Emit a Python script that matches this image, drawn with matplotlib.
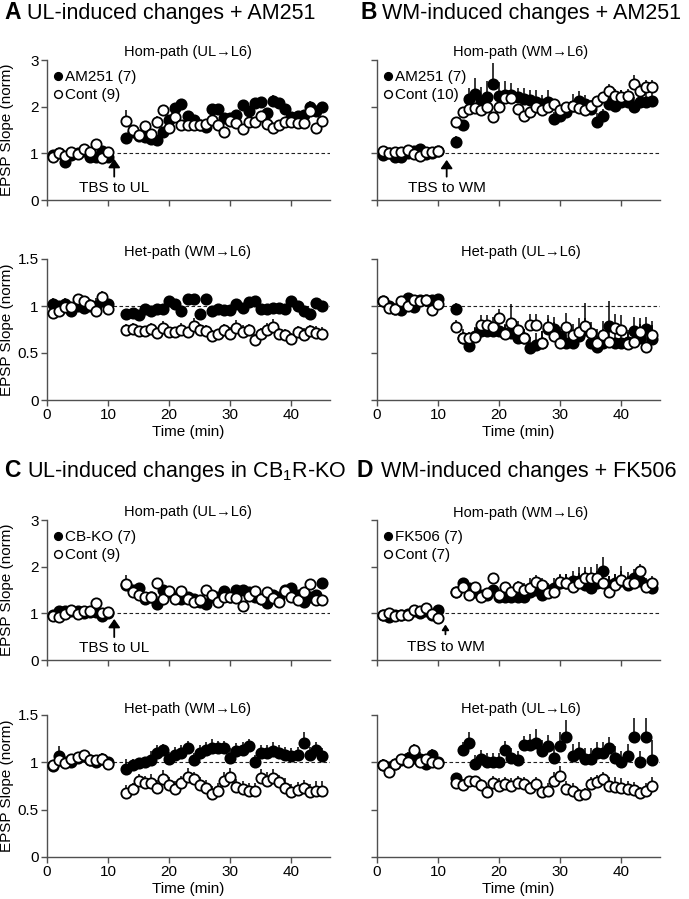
import matplotlib
matplotlib.use("Agg")
import matplotlib.pyplot as plt
from matplotlib.lines import Line2D
import numpy as np

plt.rcParams['font.family'] = ['Liberation Sans', 'DejaVu Sans']
plt.rcParams['mathtext.fontset'] = 'custom'
plt.rcParams['mathtext.rm'] = 'Liberation Sans'

# ---------------- data ----------------
TIME = [1, 2, 3, 4, 5, 6, 7, 8, 9, 10,
        13, 14, 15, 16, 17, 18, 19, 20, 21, 22, 23, 24, 25, 26, 27, 28, 29, 30,
        31, 32, 33, 34, 35, 36, 37, 38, 39, 40, 41, 42, 43, 44, 45]
X_TICKS = [0, 10, 20, 30, 40]
HOM_YTICKS = [0, 1, 2, 3]
HET_YTICKS = [0, 0.5, 1, 1.5]
HET_YLABELS = ['0', '0.5', '1', '1.5']

# Panel A
A_hom_drug = [0.97, 1.0, 0.82, 0.97, 1.0, 1.05, 0.93, 0.93, 1.05, 0.93,
              1.33, 1.46, 1.38, 1.34, 1.3, 1.29, 1.46, 1.71, 1.98, 2.05, 1.79, 1.72, 1.6, 1.57, 1.95, 1.95, 1.75,
              1.75, 1.82, 2.03, 1.91, 2.08, 2.1, 1.87, 2.12, 2.07, 1.96, 1.77, 1.8, 1.82, 2.0, 1.9, 2.0]
A_hom_drug_err = [0.08, 0.04, 0.05, 0.05, 0.04, 0.05, 0.06, 0.08, 0.07, 0.05,
                  0.1, 0.12, 0.08, 0.08, 0.06, 0.06, 0.08, 0.1, 0.1, 0.12, 0.1, 0.08, 0.08, 0.08, 0.1, 0.1, 0.1,
                  0.08, 0.1, 0.12, 0.1, 0.1, 0.1, 0.1, 0.12, 0.1, 0.1, 0.08, 0.08, 0.1, 0.12, 0.1, 0.1]
A_hom_cont = [0.93, 1.0, 0.95, 1.03, 0.98, 1.1, 1.03, 1.2, 0.9, 1.03,
              1.7, 1.5, 1.39, 1.58, 1.42, 1.68, 1.92, 1.55, 1.78, 1.6, 1.6, 1.6, 1.6, 1.62, 1.72, 1.6, 1.45,
              1.7, 1.65, 1.52, 1.68, 1.68, 1.8, 1.63, 1.55, 1.6, 1.68, 1.68, 1.65, 1.65, 1.9, 1.55, 1.7]
A_hom_cont_err = [0.05, 0.05, 0.06, 0.06, 0.05, 0.06, 0.07, 0.08, 0.06, 0.06,
                  0.22, 0.1, 0.08, 0.1, 0.1, 0.12, 0.1, 0.08, 0.1, 0.08, 0.06, 0.08, 0.06, 0.06, 0.08, 0.08, 0.08,
                  0.06, 0.08, 0.08, 0.08, 0.08, 0.08, 0.08, 0.08, 0.06, 0.08, 0.08, 0.06, 0.06, 0.08, 0.06, 0.06]
A_het_drug = [1.02, 1.0, 1.02, 0.95, 1.0, 0.98, 1.0, 1.0, 1.05, 1.02,
              0.92, 0.93, 0.9, 0.97, 0.95, 0.97, 0.97, 1.05, 1.02, 0.95, 1.07, 1.07, 0.92, 1.07, 0.95, 0.97, 0.96,
              0.96, 1.02, 0.98, 1.04, 1.05, 0.97, 0.97, 0.98, 0.98, 0.97, 1.05, 1.0, 0.95, 0.92, 1.03, 1.0]
A_het_drug_err = [0.06, 0.05, 0.06, 0.04, 0.05, 0.06, 0.05, 0.08, 0.06, 0.05,
                  0.03, 0.03, 0.03, 0.03, 0.03, 0.03, 0.03, 0.03, 0.03, 0.03, 0.03, 0.03, 0.03, 0.03, 0.03, 0.03, 0.03,
                  0.03, 0.03, 0.03, 0.03, 0.03, 0.03, 0.03, 0.03, 0.03, 0.03, 0.03, 0.03, 0.03, 0.03, 0.03, 0.03]
A_het_cont = [0.93, 0.95, 0.99, 0.99, 1.07, 1.05, 1.01, 0.95, 1.1, 0.97,
              0.75, 0.76, 0.73, 0.73, 0.76, 0.71, 0.77, 0.72, 0.72, 0.75, 0.72, 0.79, 0.74, 0.73, 0.68, 0.7, 0.74,
              0.7, 0.77, 0.72, 0.74, 0.64, 0.7, 0.74, 0.78, 0.7, 0.69, 0.65, 0.72, 0.69, 0.73, 0.71, 0.7]
A_het_cont_err = [0.05, 0.04, 0.04, 0.04, 0.06, 0.06, 0.06, 0.08, 0.06, 0.04,
                  0.06, 0.06, 0.06, 0.05, 0.06, 0.06, 0.07, 0.06, 0.06, 0.07, 0.06, 0.08, 0.07, 0.07, 0.06, 0.06, 0.07,
                  0.08, 0.08, 0.08, 0.07, 0.06, 0.07, 0.08, 0.08, 0.07, 0.07, 0.06, 0.07, 0.08, 0.07, 0.08, 0.08]

# Panel B
B_hom_drug = [0.97, 1.0, 0.92, 0.92, 1.0, 1.05, 1.1, 0.98, 1.0, 1.05,
              1.25, 1.6, 2.16, 2.27, 2.13, 2.2, 2.48, 2.23, 2.25, 2.25, 2.2, 2.16, 2.15, 2.1, 2.06, 2.1, 1.74,
              1.81, 1.88, 2.02, 2.13, 2.06, 1.95, 1.67, 1.81, 2.06, 2.02, 2.1, 2.1, 2.0, 2.1, 2.1, 2.13]
B_hom_drug_err = [0.04, 0.04, 0.04, 0.04, 0.04, 0.05, 0.05, 0.04, 0.04, 0.04,
                  0.12, 0.08, 0.25, 0.35, 0.3, 0.35, 0.45, 0.3, 0.3, 0.25, 0.2, 0.25, 0.2, 0.25, 0.2, 0.25, 0.15,
                  0.2, 0.2, 0.25, 0.2, 0.2, 0.2, 0.2, 0.15, 0.2, 0.2, 0.25, 0.2, 0.2, 0.2, 0.2, 0.2]
B_hom_cont = [1.05, 1.0, 1.03, 1.03, 1.07, 0.98, 0.95, 1.02, 1.02, 1.05,
              1.67, 1.88, 1.95, 1.98, 1.93, 2.0, 1.77, 2.0, 2.18, 2.18, 1.95, 1.81, 1.88, 2.0, 1.92, 2.0, 2.06,
              1.93, 2.0, 2.02, 1.98, 1.92, 2.02, 2.13, 2.2, 2.34, 2.23, 2.2, 2.23, 2.48, 2.34, 2.42, 2.42]
B_hom_cont_err = [0.04, 0.04, 0.04, 0.04, 0.04, 0.04, 0.04, 0.04, 0.04, 0.05,
                  0.08, 0.1, 0.1, 0.1, 0.1, 0.1, 0.1, 0.1, 0.1, 0.1, 0.1, 0.1, 0.1, 0.1, 0.1, 0.1, 0.1,
                  0.1, 0.1, 0.1, 0.1, 0.1, 0.1, 0.1, 0.1, 0.15, 0.15, 0.15, 0.15, 0.2, 0.15, 0.15, 0.15]
B_het_drug = [1.05, 1.0, 0.97, 0.96, 1.08, 0.99, 1.06, 1.06, 1.06, 1.07,
              0.97, 0.66, 0.57, 0.68, 0.73, 0.73, 0.73, 0.73, 0.71, 0.71, 0.66, 0.66, 0.55, 0.59, 0.61, 0.76, 0.76,
              0.68, 0.61, 0.61, 0.68, 0.75, 0.61, 0.56, 0.61, 0.79, 0.61, 0.61, 0.62, 0.73, 0.66, 0.76, 0.65]
B_het_drug_err = [0.05, 0.05, 0.04, 0.05, 0.06, 0.06, 0.05, 0.05, 0.05, 0.05,
                  0.06, 0.1, 0.1, 0.1, 0.12, 0.1, 0.1, 0.1, 0.1, 0.1, 0.1, 0.1, 0.12, 0.12, 0.12, 0.1, 0.12,
                  0.1, 0.12, 0.12, 0.1, 0.12, 0.12, 0.12, 0.15, 0.26, 0.15, 0.15, 0.12, 0.15, 0.15, 0.12, 0.15]
B_het_cont = [1.05, 0.98, 0.97, 1.05, 1.0, 1.06, 1.05, 1.06, 0.96, 1.02,
              0.78, 0.66, 0.66, 0.67, 0.8, 0.8, 0.78, 0.87, 0.7, 0.82, 0.74, 0.66, 0.8, 0.8, 0.61, 0.78, 0.68,
              0.61, 0.78, 0.69, 0.72, 0.79, 0.71, 0.61, 0.69, 0.62, 0.77, 0.75, 0.6, 0.62, 0.72, 0.56, 0.69]
B_het_cont_err = [0.06, 0.06, 0.04, 0.06, 0.06, 0.06, 0.06, 0.05, 0.06, 0.06,
                  0.07, 0.06, 0.06, 0.1, 0.1, 0.1, 0.1, 0.1, 0.1, 0.2, 0.1, 0.1, 0.12, 0.12, 0.12, 0.12, 0.15,
                  0.15, 0.15, 0.12, 0.15, 0.24, 0.12, 0.15, 0.15, 0.2, 0.15, 0.15, 0.12, 0.15, 0.15, 0.2, 0.15]

# Panel C
C_hom_drug = [0.97, 1.05, 1.05, 1.04, 1.05, 1.0, 1.02, 1.02, 0.94, 1.0,
              1.6, 1.5, 1.55, 1.3, 1.35, 1.2, 1.5, 1.45, 1.35, 1.3, 1.35, 1.3, 1.25, 1.2, 1.35, 1.35, 1.48,
              1.35, 1.5, 1.5, 1.45, 1.35, 1.3, 1.22, 1.4, 1.35, 1.5, 1.55, 1.4, 1.25, 1.35, 1.4, 1.65]
C_hom_drug_err = [0.05, 0.05, 0.05, 0.05, 0.05, 0.05, 0.05, 0.06, 0.05, 0.05,
                  0.1, 0.1, 0.1, 0.1, 0.08, 0.08, 0.1, 0.1, 0.08, 0.08, 0.1, 0.08, 0.08, 0.08, 0.1, 0.1, 0.1,
                  0.1, 0.1, 0.1, 0.1, 0.08, 0.08, 0.1, 0.1, 0.1, 0.1, 0.1, 0.1, 0.1, 0.1, 0.1, 0.1]
C_hom_cont = [0.95, 0.92, 0.98, 1.08, 0.98, 1.05, 1.05, 1.22, 1.0, 1.03,
              1.62, 1.45, 1.4, 1.35, 1.35, 1.65, 1.3, 1.47, 1.3, 1.47, 1.3, 1.25, 1.28, 1.5, 1.4, 1.25, 1.35,
              1.35, 1.33, 1.15, 1.38, 1.47, 1.3, 1.45, 1.33, 1.25, 1.47, 1.35, 1.28, 1.45, 1.62, 1.28, 1.28]
C_hom_cont_err = [0.04, 0.04, 0.04, 0.05, 0.05, 0.06, 0.08, 0.1, 0.05, 0.05,
                  0.2, 0.1, 0.1, 0.08, 0.08, 0.1, 0.08, 0.1, 0.08, 0.1, 0.08, 0.08, 0.08, 0.1, 0.1, 0.08, 0.1,
                  0.1, 0.08, 0.08, 0.1, 0.1, 0.1, 0.1, 0.08, 0.1, 0.1, 0.1, 0.1, 0.1, 0.12, 0.1, 0.1]
C_het_drug = [0.96, 1.07, 1.0, 1.0, 1.05, 1.07, 1.02, 1.0, 1.03, 1.0,
              0.93, 0.97, 0.99, 1.0, 1.02, 1.1, 1.13, 1.03, 1.08, 1.1, 1.15, 1.02, 1.1, 1.13, 1.15, 1.15, 1.15,
              1.05, 1.12, 1.13, 1.17, 1.0, 1.1, 1.1, 1.12, 1.1, 1.08, 1.07, 1.08, 1.2, 1.08, 1.13, 1.07]
C_het_drug_err = [0.04, 0.1, 0.05, 0.05, 0.05, 0.05, 0.05, 0.08, 0.06, 0.06,
                  0.1, 0.06, 0.06, 0.06, 0.1, 0.08, 0.06, 0.08, 0.08, 0.08, 0.08, 0.08, 0.08, 0.08, 0.1, 0.08, 0.08,
                  0.1, 0.08, 0.08, 0.08, 0.08, 0.08, 0.08, 0.1, 0.08, 0.08, 0.08, 0.08, 0.12, 0.08, 0.08, 0.08]
C_het_cont = [0.97, 1.02, 0.99, 1.03, 1.06, 1.08, 1.02, 1.02, 1.04, 0.98,
              0.68, 0.72, 0.8, 0.78, 0.78, 0.73, 0.82, 0.76, 0.72, 0.78, 0.84, 0.82, 0.76, 0.73, 0.67, 0.7, 0.8,
              0.84, 0.74, 0.72, 0.7, 0.7, 0.83, 0.8, 0.83, 0.79, 0.73, 0.69, 0.71, 0.73, 0.69, 0.7, 0.7]
C_het_cont_err = [0.03, 0.04, 0.03, 0.04, 0.05, 0.05, 0.05, 0.06, 0.06, 0.06,
                  0.08, 0.06, 0.08, 0.08, 0.1, 0.08, 0.1, 0.08, 0.08, 0.08, 0.1, 0.08, 0.08, 0.08, 0.08, 0.08, 0.1,
                  0.1, 0.08, 0.08, 0.08, 0.08, 0.1, 0.1, 0.1, 0.08, 0.1, 0.08, 0.08, 0.08, 0.08, 0.1, 0.1]

# Panel D
D_hom_drug = [0.97, 0.93, 0.97, 0.97, 0.98, 1.05, 1.0, 1.05, 0.97, 1.08,
              1.45, 1.65, 1.55, 1.45, 1.4, 1.4, 1.5, 1.35, 1.35, 1.35, 1.35, 1.35, 1.45, 1.5, 1.4, 1.5, 1.55,
              1.65, 1.65, 1.7, 1.7, 1.6, 1.55, 1.65, 1.9, 1.6, 1.65, 1.7, 1.6, 1.75, 1.7, 1.6, 1.55]
D_hom_drug_err = [0.04, 0.04, 0.04, 0.04, 0.04, 0.05, 0.05, 0.05, 0.05, 0.05,
                  0.1, 0.1, 0.1, 0.1, 0.1, 0.1, 0.1, 0.08, 0.08, 0.1, 0.1, 0.1, 0.15, 0.2, 0.15, 0.15, 0.2,
                  0.2, 0.2, 0.2, 0.3, 0.3, 0.25, 0.25, 0.3, 0.2, 0.2, 0.2, 0.2, 0.2, 0.2, 0.15, 0.15]
D_hom_cont = [0.97, 1.0, 0.95, 0.97, 0.97, 1.07, 1.05, 1.12, 0.98, 0.9,
              1.46, 1.57, 1.39, 1.57, 1.36, 1.43, 1.75, 1.39, 1.57, 1.46, 1.57, 1.5, 1.55, 1.68, 1.6, 1.43, 1.46,
              1.68, 1.64, 1.57, 1.66, 1.75, 1.75, 1.75, 1.66, 1.46, 1.6, 1.71, 1.64, 1.64, 1.91, 1.57, 1.64]
D_hom_cont_err = [0.03, 0.04, 0.03, 0.03, 0.03, 0.04, 0.04, 0.05, 0.04, 0.04,
                  0.05, 0.1, 0.1, 0.08, 0.05, 0.08, 0.08, 0.1, 0.1, 0.1, 0.12, 0.15, 0.2, 0.15, 0.15, 0.15, 0.15,
                  0.15, 0.2, 0.2, 0.2, 0.25, 0.25, 0.3, 0.3, 0.35, 0.25, 0.3, 0.25, 0.2, 0.15, 0.15, 0.15]
D_het_drug = [0.97, 0.95, 0.98, 1.02, 1.05, 1.05, 1.03, 0.98, 1.08, 1.0,
              0.83, 1.13, 1.2, 0.98, 1.03, 1.0, 1.0, 1.0, 1.13, 1.05, 1.02, 1.18, 1.18, 1.2, 1.12, 1.17, 1.05,
              1.17, 1.27, 1.07, 1.1, 1.03, 1.03, 1.1, 1.1, 1.15, 1.05, 1.0, 1.07, 1.27, 1.0, 1.27, 1.02]
D_het_drug_err = [0.06, 0.05, 0.05, 0.06, 0.06, 0.08, 0.08, 0.06, 0.06, 0.06,
                  0.06, 0.08, 0.12, 0.1, 0.1, 0.1, 0.1, 0.1, 0.1, 0.1, 0.1, 0.1, 0.12, 0.15, 0.12, 0.12, 0.12,
                  0.15, 0.18, 0.12, 0.12, 0.12, 0.12, 0.12, 0.12, 0.12, 0.12, 0.12, 0.12, 0.2, 0.12, 0.2, 0.22]
D_het_cont = [0.97, 0.9, 0.98, 1.03, 1.0, 1.13, 1.0, 1.04, 1.0, 0.99,
              0.78, 0.76, 0.8, 0.8, 0.76, 0.69, 0.78, 0.75, 0.77, 0.75, 0.78, 0.77, 0.73, 0.77, 0.69, 0.7, 0.8,
              0.86, 0.72, 0.7, 0.66, 0.67, 0.77, 0.79, 0.82, 0.75, 0.74, 0.73, 0.72, 0.71, 0.68, 0.7, 0.75]
D_het_cont_err = [0.06, 0.05, 0.04, 0.05, 0.06, 0.06, 0.05, 0.05, 0.05, 0.04,
                  0.06, 0.06, 0.06, 0.06, 0.06, 0.06, 0.08, 0.08, 0.08, 0.08, 0.08, 0.08, 0.06, 0.08, 0.06, 0.08, 0.1,
                  0.1, 0.08, 0.08, 0.06, 0.06, 0.08, 0.08, 0.08, 0.1, 0.1, 0.1, 0.08, 0.08, 0.06, 0.08, 0.1]

# ---------------- layout ----------------
W, H = 689, 899
fig = plt.figure(figsize=(W / 100, H / 100), dpi=100)
AX_W = 283
XMAX = 46.3
SPINE = '#505050'
FS = 11


def add_ax(left, top, height):
    return fig.add_axes([left / W, 1 - (top + height) / H, AX_W / W, height / H])


def ftext(x, y, s, **kw):
    fig.text(x / W, 1 - y / H, s, **kw)


def style(ax, ylim, yticks, ylabels, show_y, show_x):
    for s in ['top', 'right']:
        ax.spines[s].set_visible(False)
    for s in ['left', 'bottom']:
        ax.spines[s].set_color(SPINE)
        ax.spines[s].set_linewidth(1.0)
    ax.set_xlim(0, XMAX)
    ax.set_ylim(*ylim)
    ax.set_xticks(X_TICKS)
    ax.set_yticks(yticks)
    ax.tick_params(direction='out', length=4, width=1.0, color=SPINE, labelsize=FS, pad=2)
    if show_y:
        ax.set_yticklabels(ylabels)
        ax.set_ylabel('EPSP Slope (norm)', fontsize=FS)
        ax.yaxis.set_label_coords(-0.115, 0.5)
    else:
        ax.set_yticklabels([])
    if show_x:
        ax.set_xticklabels([str(v) for v in X_TICKS])
        ax.set_xlabel('Time (min)', fontsize=FS)
        ax.xaxis.set_label_coords(0.5, -0.175)
    else:
        ax.set_xticklabels([])


def draw(ax, drug, drug_err, cont, cont_err, dash_start):
    ax.plot([dash_start, XMAX], [1, 1], ls=(0, (3.2, 2.2)), color='#222222', lw=0.8, zorder=1)
    n = len(TIME)
    ax.errorbar(TIME, drug, yerr=[np.zeros(n), drug_err], fmt='o', ms=7.4, mfc='black', mec='black',
                mew=1.3, ecolor='black', elinewidth=1.1, capsize=0, zorder=3)
    ax.errorbar(TIME, cont, yerr=[np.zeros(n), cont_err], fmt='o', ms=7.4, mfc='white', mec='black',
                mew=1.3, ecolor='black', elinewidth=1.1, capsize=0, zorder=4)


def legend(ax, drug_label, cont_label):
    h1 = Line2D([], [], ls='none', marker='o', ms=5.6, mfc='black', mec='black', mew=1.0)
    h2 = Line2D([], [], ls='none', marker='o', ms=5.6, mfc='white', mec='black', mew=1.0)
    ax.legend([h1, h2], [drug_label, cont_label], loc='upper left', bbox_to_anchor=(0.025, 0.925),
              frameon=False, fontsize=FS, handlelength=0.55, handletextpad=0.15, labelspacing=0.25,
              borderaxespad=0, borderpad=0)


def tbs(ax, x, y_tail, y_head, text, y_text, hl=0.5, hw=0.35):
    ax.annotate('', xy=(x, y_head), xytext=(x, y_tail),
                arrowprops=dict(arrowstyle='-|>,head_length=%g,head_width=%g' % (hl, hw), color='black',
                                lw=1.3, shrinkA=0, shrinkB=0))
    ax.text(x, y_text, text, ha='center', va='center', fontsize=FS)


# ---- A ----
ax = add_ax(47, 60, 140)
style(ax, (0, 3), HOM_YTICKS, [str(v) for v in HOM_YTICKS], True, False)
draw(ax, A_hom_drug, A_hom_drug_err, A_hom_cont, A_hom_cont_err, 11.4)
legend(ax, 'AM251 (7)', 'Cont (9)')
tbs(ax, 11.0, 0.5, 0.88, 'TBS to UL', 0.25)

ax = add_ax(47, 259, 141)
style(ax, (0, 1.5), HET_YTICKS, HET_YLABELS, True, True)
draw(ax, A_het_drug, A_het_drug_err, A_het_cont, A_het_cont_err, 0)

# ---- B ----
ax = add_ax(377, 60, 140)
style(ax, (0, 3), HOM_YTICKS, None, False, False)
draw(ax, B_hom_drug, B_hom_drug_err, B_hom_cont, B_hom_cont_err, 11.2)
legend(ax, 'AM251 (7)', 'Cont (10)')
tbs(ax, 11.4, 0.5, 0.86, 'TBS to WM', 0.26)

ax = add_ax(377, 259, 141)
style(ax, (0, 1.5), HET_YTICKS, None, False, True)
draw(ax, B_het_drug, B_het_drug_err, B_het_cont, B_het_cont_err, 0)

# ---- C ----
ax = add_ax(47, 520, 140)
style(ax, (0, 3), HOM_YTICKS, [str(v) for v in HOM_YTICKS], True, False)
draw(ax, C_hom_drug, C_hom_drug_err, C_hom_cont, C_hom_cont_err, 11.4)
legend(ax, 'CB-KO (7)', 'Cont (9)')
tbs(ax, 11.0, 0.49, 0.88, 'TBS to UL', 0.25)

ax = add_ax(47, 715, 142)
style(ax, (0, 1.5), HET_YTICKS, HET_YLABELS, True, True)
draw(ax, C_het_drug, C_het_drug_err, C_het_cont, C_het_cont_err, 0)

# ---- D ----
ax = add_ax(377, 520, 140)
style(ax, (0, 3), HOM_YTICKS, None, False, False)
draw(ax, D_hom_drug, D_hom_drug_err, D_hom_cont, D_hom_cont_err, 11.2)
legend(ax, 'FK506 (7)', 'Cont (7)')
tbs(ax, 11.2, 0.55, 0.76, 'TBS to WM', 0.28, hl=0.3, hw=0.2)

ax = add_ax(377, 715, 142)
style(ax, (0, 1.5), HET_YTICKS, None, False, True)
draw(ax, D_het_drug, D_het_drug_err, D_het_cont, D_het_cont_err, 0)

# ---------------- texts ----------------
TFS = 15.5
ftext(4, 19, 'A', fontsize=TFS + 1, weight='bold', va='baseline')
ftext(27, 19, 'UL-induced changes + AM251', fontsize=TFS, va='baseline')
ftext(360, 19, 'B', fontsize=TFS + 1, weight='bold', va='baseline')
ftext(382, 19, 'WM-induced changes + AM251', fontsize=TFS, va='baseline')
ftext(4, 477, 'C', fontsize=TFS + 1, weight='bold', va='baseline')
ftext(27, 477, 'UL-induced changes in CB$_\\mathregular{1}$R-KO', fontsize=TFS, va='baseline')
ftext(357, 477, 'D', fontsize=TFS + 1, weight='bold', va='baseline')
ftext(381, 477, 'WM-induced changes + FK506', fontsize=TFS, va='baseline')

SFS = 10.5
ftext(188, 52, 'Hom-path (UL\u2192L6)', fontsize=SFS, ha='center', va='center')
ftext(521, 52, 'Hom-path (WM\u2192L6)', fontsize=SFS, ha='center', va='center')
ftext(188, 252, 'Het-path (WM\u2192L6)', fontsize=SFS, ha='center', va='center')
ftext(521, 252, 'Het-path (UL\u2192L6)', fontsize=SFS, ha='center', va='center')
ftext(188, 512, 'Hom-path (UL\u2192L6)', fontsize=SFS, ha='center', va='center')
ftext(521, 513, 'Hom-path (WM\u2192L6)', fontsize=SFS, ha='center', va='center')
ftext(188, 709, 'Het-path (WM\u2192L6)', fontsize=SFS, ha='center', va='center')
ftext(521, 709, 'Het-path (UL\u2192L6)', fontsize=SFS, ha='center', va='center')

fig.savefig('out.png', dpi=100, facecolor='white')
